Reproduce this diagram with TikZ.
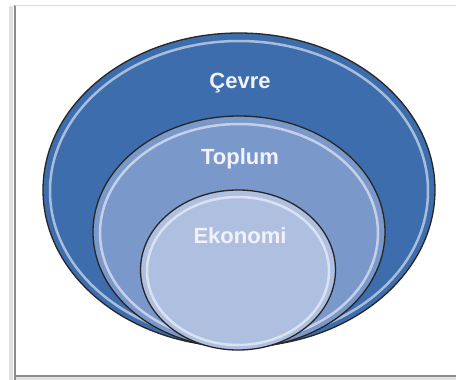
\documentclass[tikz,border=0pt]{standalone}
\usepackage{fontspec}
\setmainfont{Liberation Sans}
\usepackage{tikz}
\usetikzlibrary{shapes.geometric}
\definecolor{cevreblue}{HTML}{3E6DAD}
\definecolor{toplumblue}{HTML}{7A98CA}
\definecolor{ekonomiblue}{HTML}{AEBFE0}
\tikzset{
	ring/.style={ellipse, draw=black!85, line width=1.3pt, inner sep=0pt},
	gloss/.style={draw=white, line width=2.5pt, opacity=0.55},
	ringtext/.style={text=white!95!blue, font=\bfseries\fontsize{22}{26}\selectfont},
	frameline/.style={draw=black!45, line width=1.4pt},
	frameshade/.style={draw=black!12, line width=4pt},
}

\begin{document}
\begin{tikzpicture}[x=1pt, y=-1pt]
	\useasboundingbox (0,0) rectangle (456,380);
	\fill[white] (0,0) rectangle (456,380);
%
	% frame with its shadow
	\draw[frameshade] (11,380) -- (11,6);
	\draw[frameshade] (15,379) -- (460,379);
	\draw[frameline] (15,380) -- (15,5);
	\draw[draw=black!15, line width=1pt] (15,5) -- (460,5);
	\draw[frameline] (15,376) -- (460,376);
%
	% rings
	\node[ring, fill=cevreblue, minimum width=392pt, minimum height=314pt] (cevre) at (239,190) {};
	\draw[gloss] (239,191) ellipse [x radius=189, y radius=150];
	\node[ring, fill=toplumblue, minimum width=292pt, minimum height=232pt] (toplum) at (239,232) {};
	\draw[gloss] (239,233) ellipse [x radius=139, y radius=109];
	\node[ring, fill=ekonomiblue, minimum width=195pt, minimum height=160pt] (ekonomi) at (238,270) {};
	\draw[gloss] (238,271) ellipse [x radius=91, y radius=74];
%
	% labels
	\node[ringtext] (lcevre) at (240,83) {Çevre};
	\node[ringtext] (ltoplum) at (240,159) {Toplum};
	\node[ringtext] (lekonomi) at (240,236) {Ekonomi};
\end{tikzpicture}
\end{document}
